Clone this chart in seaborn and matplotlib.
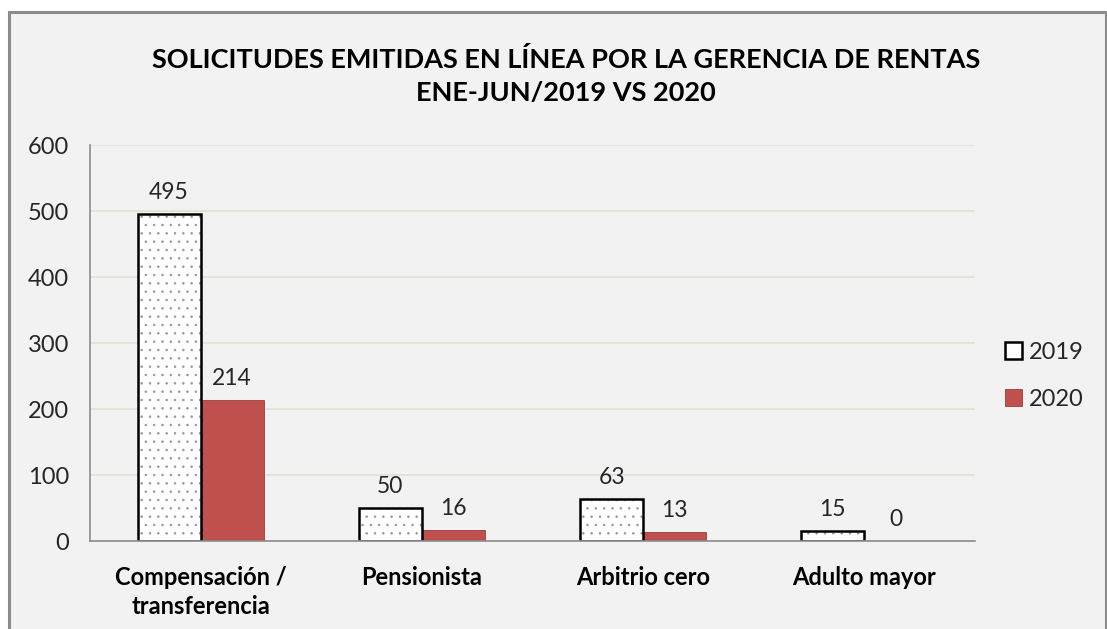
import matplotlib
matplotlib.use("Agg")
import matplotlib.pyplot as plt
import seaborn as sns
import pandas as pd
import numpy as np
from matplotlib.patches import Rectangle, Patch

categories = ["Compensación /\ntransferencia", "Pensionista", "Arbitrio cero", "Adulto mayor"]
years = ["2019", "2020"]
values_2019 = [495, 50, 63, 15]
values_2020 = [214, 16, 13, 0]
yticks = [0, 100, 200, 300, 400, 500, 600]

df = pd.DataFrame({
    "cat": categories * 2,
    "year": [years[0]] * 4 + [years[1]] * 4,
    "val": values_2019 + values_2020,
})

sns.set_theme(style="white")
plt.rcParams["font.family"] = ["Lato", "DejaVu Sans"]
plt.rcParams["hatch.linewidth"] = 0.6

bg = "#f2f2f2"
fig = plt.figure(figsize=(11.07, 6.29), dpi=100, facecolor="white")
# chart area border (bottom edge lies outside the image)
fig.patches.append(Rectangle((9 / 1107, -0.05), (1106 - 9) / 1107, 1.05 - 12 / 629,
                             transform=fig.transFigure, facecolor=bg,
                             edgecolor="#8c8c8c", linewidth=2.2, zorder=-10))
ax = fig.add_axes([90 / 1107, 1 - 541 / 629, (975 - 90) / 1107, (541 - 145) / 629])
ax.set_facecolor(bg)

sns.barplot(data=df, x="cat", y="val", hue="year", order=categories, hue_order=years,
            palette={"2019": "white", "2020": "#c0504d"}, width=0.57, ax=ax,
            edgecolor="black", linewidth=1.8, legend=False, saturation=1)

for i, p in enumerate(list(ax.patches[:8])):
    if i < 4:
        # grey dotted hatch inside, black outline drawn on top
        p.set_hatch("..")
        p.set_edgecolor("#9a9a9a")
        p.set_linewidth(0)
        outline = Rectangle(p.get_xy(), p.get_width(), p.get_height(), fill=False,
                            edgecolor="black", linewidth=1.8, zorder=p.get_zorder() + 0.1)
        ax.add_patch(outline)
    else:
        p.set_edgecolor("#8b2b28")
        p.set_linewidth(0.5)

for c, vals in zip(ax.containers, [values_2019, values_2020]):
    ax.bar_label(c, labels=[str(v) for v in vals], padding=8, fontsize=16.5, color="#262626")

ax.set_ylim(0, 600)
ax.set_yticks(yticks)
ax.set_yticklabels([str(t) for t in yticks], fontsize=17, color="#262626")
ax.set_xlim(-0.5, 3.5)
ax.set_xticks(range(4))
ax.set_xticklabels(categories, fontsize=17, fontweight="bold", color="#000000", linespacing=1.3)
ax.tick_params(axis="x", length=0, pad=18)
ax.set_xticks([-0.5, 0.5, 1.5, 2.5, 3.5], minor=True)
ax.tick_params(axis="x", which="minor", length=7, color="#8c8c8c", width=1.2, direction="out")
ax.tick_params(axis="y", length=7, color="#8c8c8c", width=1.2, direction="out", pad=8)
ax.yaxis.grid(True, color="#e3e0cf", linewidth=1.2)
ax.set_axisbelow(True)
ax.set_xlabel("")
ax.set_ylabel("")
for s in ["top", "right"]:
    ax.spines[s].set_visible(False)
for s in ["left", "bottom"]:
    ax.spines[s].set_color("#8c8c8c")
    ax.spines[s].set_linewidth(1.2)

fig.text(0.511, 1 - 76 / 629, "SOLICITUDES EMITIDAS EN LÍNEA POR LA GERENCIA DE RENTAS\nENE-JUN/2019 VS 2020",
         ha="center", va="center", fontsize=19.5, fontweight="bold", linespacing=1.4, color="#000000")

handles = [Patch(facecolor="white", edgecolor="black", linewidth=1.8),
           Patch(facecolor="#c0504d", edgecolor="#8b2b28", linewidth=0.5)]
leg = fig.legend(handles, years, loc="center left", bbox_to_anchor=(1005 / 1107, 1 - 376 / 629),
                 frameon=False, fontsize=17, handlelength=0.7, handleheight=0.7,
                 handletextpad=0.3, labelspacing=1.1, borderpad=0, borderaxespad=0)
for t in leg.get_texts():
    t.set_color("#262626")

fig.savefig("out.png", dpi=100, facecolor="white")
